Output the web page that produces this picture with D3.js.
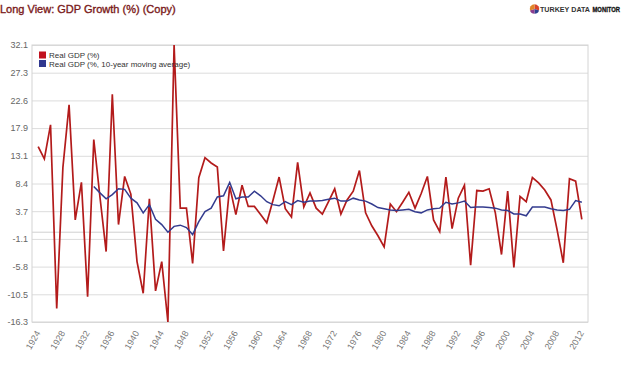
<!DOCTYPE html>
<html><head><meta charset="utf-8">
<script src="https://cdn.jsdelivr.net/npm/d3@7/dist/d3.min.js"></script>
<style>body{margin:0;background:#fff}svg{display:block}</style>
</head><body><svg id="c" width="627" height="368"></svg>
<script>
const titleText = "Long View: GDP Growth (%) (Copy)";
const logoParts = ["TURKEY DATA", "MONITOR"];
const seriesNames = ["Real GDP (%)", "Real GDP (%, 10-year moving average)"];
const years = [1924,1925,1926,1927,1928,1929,1930,1931,1932,1933,1934,1935,1936,1937,1938,1939,1940,1941,1942,1943,1944,1945,1946,1947,1948,1949,1950,1951,1952,1953,1954,1955,1956,1957,1958,1959,1960,1961,1962,1963,1964,1965,1966,1967,1968,1969,1970,1971,1972,1973,1974,1975,1976,1977,1978,1979,1980,1981,1982,1983,1984,1985,1986,1987,1988,1989,1990,1991,1992,1993,1994,1995,1996,1997,1998,1999,2000,2001,2002,2003,2004,2005,2006,2007,2008,2009,2010,2011,2012];
const realGDP = [14.6,12.5,18.3,-13.0,11.0,21.7,2.1,8.5,-11.0,15.8,6.0,-3.3,23.5,1.3,9.5,6.5,-5.0,-10.4,5.7,-10.0,-5.0,-15.3,31.9,4.1,4.1,-5.3,9.3,12.7,11.8,11.1,-3.2,7.8,3.0,8.0,4.4,4.4,3.0,1.6,5.4,9.4,4.0,2.6,11.9,4.3,6.7,4.1,3.1,5.2,7.4,3.1,5.5,7.0,10.5,3.3,1.1,-0.6,-2.5,4.8,3.5,5.1,6.8,4.1,6.6,9.5,2.1,0.1,9.4,0.6,5.8,8.0,-5.6,7.1,7.0,7.4,3.3,-3.8,7.0,-6.0,6.1,5.2,9.3,8.4,7.2,5.5,0.4,-5.2,9.1,8.7,2.2];
const maYears = years.slice(9);
const movingAvg = [7.8,6.7,5.7,6.4,7.4,7.3,5.8,5.0,3.3,4.7,2.2,1.3,0.0,1.0,1.2,0.8,-0.4,1.8,3.5,4.1,6.0,6.2,8.5,5.7,6.0,6.0,7.0,6.2,5.2,4.7,4.5,5.2,4.7,5.4,5.1,5.3,5.3,5.4,5.6,5.8,5.3,5.3,5.8,5.5,5.3,4.8,4.2,4.0,3.8,3.7,3.8,3.9,3.5,3.3,3.8,4.0,4.1,5.1,4.8,5.0,5.3,4.2,4.3,4.3,4.2,4.1,3.8,3.7,3.1,3.1,2.8,4.3,4.3,4.3,4.0,3.8,3.7,3.9,5.4,5.1];
const yTickLabels = ["-16.3","-10.5","-5.8","-1.1","3.7","8.4","13.1","17.9","22.6","27.3","32.1"];
const xTickYears = [1924,1928,1932,1936,1940,1944,1948,1952,1956,1960,1964,1968,1972,1976,1980,1984,1988,1992,1996,2000,2004,2008,2012];

const svg = d3.select("#c");
const L = 32, R = 588, T = 45, B = 322;
const font = "Liberation Sans, Arial, sans-serif";
const narrow = "Liberation Sans Narrow, Liberation Sans, Arial, sans-serif";
const x = d3.scaleLinear().domain([1923, 2013]).range([L, R]);
const ext = d3.extent(realGDP);
const y = d3.scaleLinear().domain(ext).range([B, T]);

// title
svg.append("text").attr("x", 0).attr("y", 13).attr("font-family", font).attr("font-size", 11)
  .attr("fill", "#7a1a1a").attr("stroke", "#7a1a1a").attr("stroke-width", 0.35).text(titleText);

// logo
const lg = svg.append("g").attr("transform", "translate(534.5,9)");
const pie = d3.pie().sort(null)([3,2,2,3]);
const arc = d3.arc().innerRadius(0).outerRadius(4.8);
const pcol = ["#d9432b","#2c3f8f","#8a3d8f","#e0862a"];
lg.selectAll("path").data(pie).join("path").attr("d", arc).attr("fill", (d,i) => pcol[i]);
svg.append("text").attr("x", 540).attr("y", 12).attr("font-family", narrow)
  .attr("font-size", 7.5).attr("font-weight", "bold").attr("fill", "#333")
  .attr("textLength", 50).attr("lengthAdjust", "spacingAndGlyphs").text(logoParts[0]);
svg.append("text").attr("x", 592.5).attr("y", 12).attr("font-family", narrow)
  .attr("font-size", 7).attr("font-weight", "bold").attr("fill", "#111")
  .attr("stroke", "#111").attr("stroke-width", 0.3)
  .attr("textLength", 27.5).attr("lengthAdjust", "spacingAndGlyphs").text(logoParts[1]);

// grid
const nT = yTickLabels.length;
const tickVals = yTickLabels.map((s, i) => ext[0] + i * (ext[1] - ext[0]) / (nT - 1));
const yAxis = d3.axisLeft(y).tickValues(tickVals).tickSize(-(R - L)).tickFormat((d, i) => yTickLabels[i]);
const ga = svg.append("g").attr("transform", `translate(${L},0)`).call(yAxis);
ga.select(".domain").remove();
ga.selectAll(".tick line").attr("stroke", "#dcdcdc");
ga.selectAll(".tick text").attr("font-family", font).attr("font-size", 9).attr("fill", "#666").attr("x", -4);
// zero line
svg.append("line").attr("x1", L).attr("x2", R).attr("y1", y(0)).attr("y2", y(0)).attr("stroke", "#d0d0d0");
// frame
svg.append("rect").attr("x", L).attr("y", T).attr("width", R - L).attr("height", B - T)
  .attr("fill", "none").attr("stroke", "#d4d4d4");

// x axis labels
const xAxis = d3.axisBottom(x).tickValues(xTickYears).tickSize(0).tickFormat(d3.format("d"));
const gx = svg.append("g").attr("transform", `translate(0,${B})`).call(xAxis);
gx.select(".domain").remove();
gx.selectAll(".tick text").attr("font-family", font).attr("font-size", 9).attr("fill", "#777")
  .attr("text-anchor", "end").attr("dy", 0).attr("y", 0)
  .attr("transform", "translate(2,11) rotate(-60)");

// lines
const line = d3.line().x(d => x(d[0])).y(d => y(d[1]));
svg.append("path").datum(years.map((yr, i) => [yr, realGDP[i]])).attr("d", line)
  .attr("fill", "none").attr("stroke", "#b31b1b").attr("stroke-width", 1.7).attr("stroke-linejoin", "miter");
svg.append("path").datum(maYears.map((yr, i) => [yr, movingAvg[i]])).attr("d", line)
  .attr("fill", "none").attr("stroke", "#333b8e").attr("stroke-width", 1.5);

// legend
const leg = svg.append("g").attr("transform", "translate(39,51.5)");
const lcol = ["#c1121f", "#30388f"];
seriesNames.forEach((n, i) => {
  leg.append("rect").attr("x", 0).attr("y", i * 8.5).attr("width", 7).attr("height", 7).attr("fill", lcol[i]);
  leg.append("text").attr("x", 10).attr("y", i * 8.5 + 6.5).attr("font-family", font).attr("font-size", 8)
    .attr("fill", "#333").text(n);
});
</script></body></html>
